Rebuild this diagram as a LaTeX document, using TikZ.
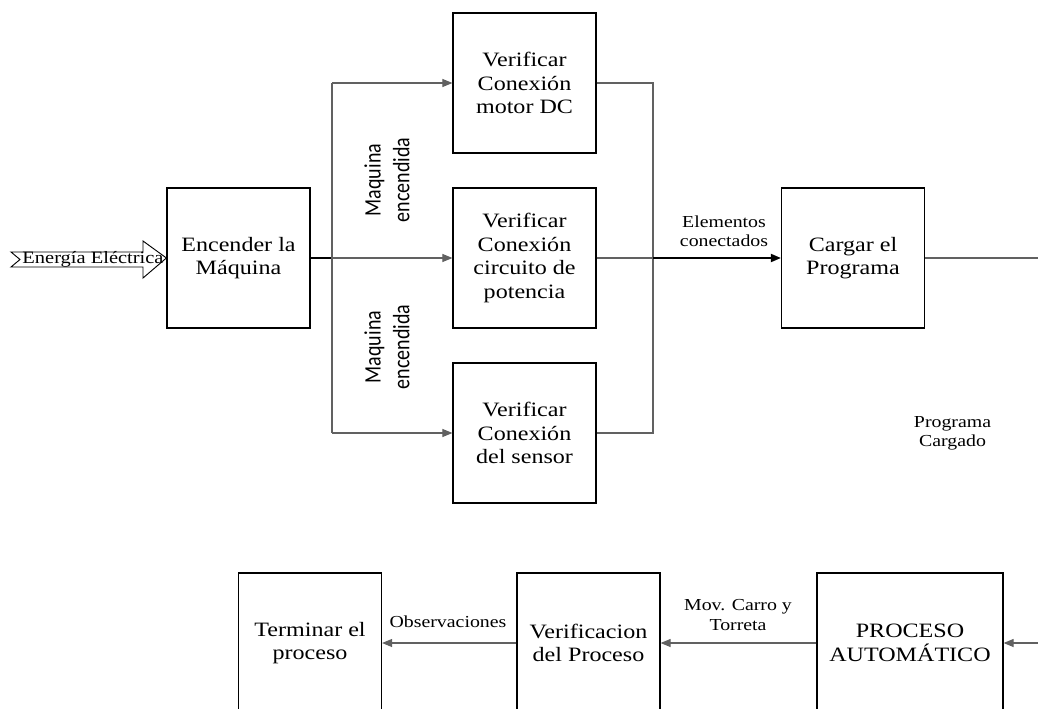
\documentclass[tikz,border=0pt]{standalone}
\usepackage{fontspec}
\setmainfont{Liberation Serif}[FakeStretch=1.18]
\newfontfamily\rotsans{Carlito}
\usetikzlibrary{arrows.meta}

\begin{document}
\begin{tikzpicture}
[
    x=0.75pt, y=-0.75pt,
    box/.style={draw, line width=0.9pt, minimum width=107.25pt, minimum height=105pt,
        align=center, font=\fontsize{15.3}{17.6}\selectfont},
    etiq/.style={align=center, font=\fontsize{12.6}{14.5}\selectfont},
    girado/.style={align=center, rotate=90, yscale=1.18, font=\rotsans\fontsize{15}{18.3}\selectfont},
    fino/.style={line width=0.8pt, draw=black!62},
    grueso/.style={line width=1.4pt, draw=black},
    flecha/.style={-{Triangle[length=7.5pt,width=6pt]}},
]
\useasboundingbox (0,0) rectangle (1038,709);

% bloques
\node[box] (enc) at (238.5,258) {Encender la\\Máquina};
\node[box] (vmot) at (524.5,83) {Verificar\\Conexión\\motor DC};
\node[box] (vpot) at (524.5,258) {Verificar\\Conexión\\circuito de\\potencia};
\node[box] (vsen) at (524.5,433) {Verificar\\Conexión\\del sensor};
\node[box] (carg) at (853,258) {Cargar el\\Programa};
\node[box] (term) at (310,643) {Terminar el\\proceso};
\node[box] (verif) at (588.5,643) {Verificacion\\del Proceso};
\node[box, minimum width=139.5pt] (proc) at (910,643) {PROCESO\\AUTOMÁTICO};

\coordinate (busL) at (332,258);
\coordinate (busR) at (653,258);
\coordinate (salida) at (1038,258);
\coordinate (entrada) at (1038,643);

% entrada de energia
\node[font=\fontsize{13}{15}\selectfont] (energia) at (93,259) {Energía Eléctrica};
\draw[line width=0.7pt] (11,252) -- (143,252) -- (143,241) -- (enc.west)
    -- (143,278) -- (143,267) -- (11,267) -- (20,259.5) -- cycle;

% conexiones
\draw[grueso] (enc.east) -- (busL);
\draw[fino] (vmot.west -| busL) -- (vsen.west -| busL);
\draw[fino, flecha] (vmot.west -| busL) -- (vmot.west);
\draw[fino, flecha] (busL) -- (vpot.west);
\draw[fino, flecha] (vsen.west -| busL) -- (vsen.west);
\draw[fino] (vmot.east) -| (vsen.east -| busR) -- (vsen.east);
\draw[fino] (vpot.east) -- (busR);
\draw[grueso, flecha] (busR) -- (carg.west);
\draw[fino] (carg.east) -- (salida);
\draw[fino, flecha] (entrada) -- (proc.east);
\draw[fino, flecha] (proc.west) -- (verif.east);
\draw[fino, flecha] (verif.west) -- (term.east);

% etiquetas
\node[girado] (enc1) at (387,180) {Maquina\\encendida};
\node[girado] (enc2) at (387,347) {Maquina\\encendida};
\node[etiq] (elem) at (724,231.5) {Elementos\\conectados};
\node[etiq] (prog) at (952.5,433) {Programa\\Cargado};
\node[etiq] (mov) at (738,615) {Mov. Carro y\\Torreta};
\node[etiq] (obs) at (448,622) {Observaciones};
\end{tikzpicture}
\end{document}
